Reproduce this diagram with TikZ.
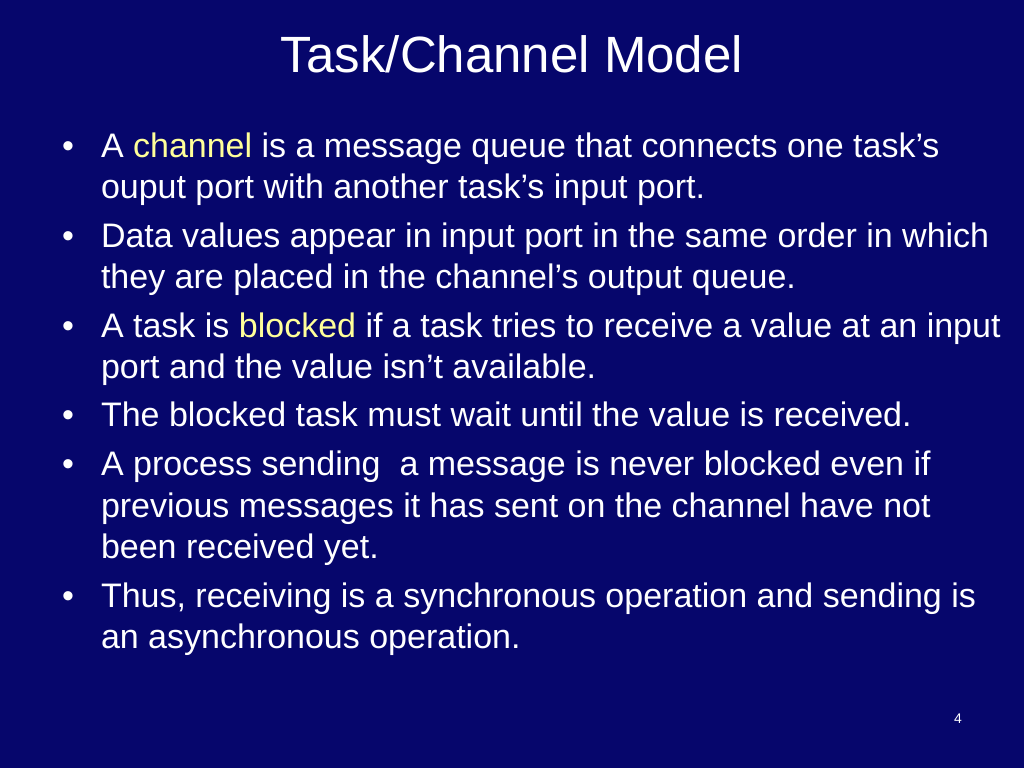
\documentclass[tikz,border=0pt]{standalone}
\usepackage{fontspec}
\setmainfont{Liberation Sans}
\definecolor{slidebg}{RGB}{6,6,108}
\definecolor{hl}{RGB}{255,255,153}
\begin{document}
\begin{tikzpicture}[x=1pt,y=-1pt,
  body/.style={anchor=base west,inner sep=0pt,outer sep=0pt,text=white,font=\fontsize{34}{41}\selectfont},
  bul/.style={anchor=base west,inner sep=0pt,outer sep=0pt,text=white,font=\fontsize{34}{41}\selectfont},
  ttl/.style={anchor=base,inner sep=0pt,text=white,font=\fontsize{51}{60}\selectfont},
  pnum/.style={anchor=base,inner sep=0pt,text=white,font=\fontsize{14}{16}\selectfont}]
\fill[slidebg] (0,0) rectangle (1024,768);
\useasboundingbox (0,0) rectangle (1024,768);
\node[ttl] (title) at (512,72) {Task/Channel Model};
% bullets
\node[bul] (b1) at (62,157) {•};
\node[body] (l1) at (101,157) {A \textcolor{hl}{channel} is a message queue that connects one task’s};
\node[body] (l2) at (101,198) {ouput port with another task’s input port.};
\node[bul] (b2) at (62,247) {•};
\node[body] (l3) at (101,247) {Data values appear in input port in the same order in which};
\node[body] (l4) at (101,288) {they are placed in the channel’s output queue.};
\node[bul] (b3) at (62,337) {•};
\node[body] (l5) at (101,337) {A task is \textcolor{hl}{blocked} if a task tries to receive a value at an input};
\node[body] (l6) at (101,378) {port and the value isn’t available.};
\node[bul] (b4) at (62,426) {•};
\node[body] (l7) at (101,426) {The blocked task must wait until the value is received.};
\node[bul] (b5) at (62,475) {•};
\node[body] (l8) at (101,475) {A process sending\ \ a message is never blocked even if};
\node[body] (l9) at (101,517) {previous messages it has sent on the channel have not};
\node[body] (l10) at (101,558) {been received yet.};
\node[bul] (b6) at (62,607) {•};
\node[body] (l11) at (101,607) {Thus, receiving is a synchronous operation and sending is};
\node[body] (l12) at (101,648) {an asynchronous operation.};
\node[pnum] (pn) at (958,723) {4};
\end{tikzpicture}
\end{document}
